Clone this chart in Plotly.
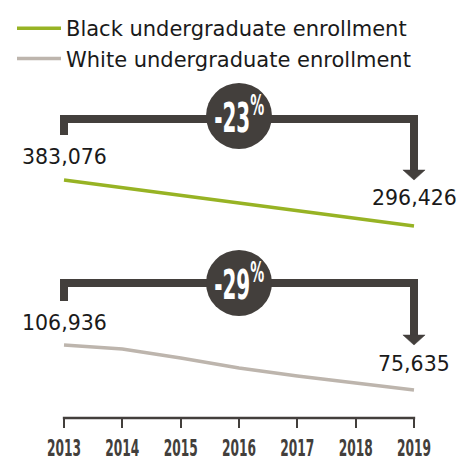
import plotly.graph_objects as go

# Enrollment data
years = [2013, 2014, 2015, 2016, 2017, 2018, 2019]
black_enrollment = [383076, 368900, 354200, 339800, 325100, 310700, 296426]
white_enrollment = [106936, 104150, 97900, 90940, 85370, 80500, 75635]
series_names = ["Black undergraduate enrollment", "White undergraduate enrollment"]

GREEN = "#97b324"
GREY = "#bdb5ad"
DARK = "#433f3c"
W, H = 461, 458
TEXT_FONT = "DejaVu Sans"
COND_FONT = "DejaVu Sans Condensed"


def py(p):
    """pixel row -> paper y"""
    return 1 - p / H


fig = go.Figure()
fig.add_trace(go.Scatter(x=years, y=black_enrollment, mode="lines", name=series_names[0],
                         line=dict(color=GREEN, width=3.5), yaxis="y"))
fig.add_trace(go.Scatter(x=years, y=white_enrollment, mode="lines", name=series_names[1],
                         line=dict(color=GREY, width=3.5), yaxis="y2"))

shapes = []
annotations = []

# axis baseline spanning the year range
shapes.append(dict(type="line", xref="x", yref="y2 domain", x0=years[0] - 0.02, x1=years[-1] + 0.02,
                   y0=0, y1=0, line=dict(color=DARK, width=2.5)))


def bracket(y_bar, y_left, y_arrow, y_circle, pct, values, shifts, yref):
    x0, x1 = years[0], years[-1]
    xm = (x0 + x1) / 2
    shapes.append(dict(type="path", xref="x", yref="paper",
                       path=f"M{x0},{py(y_left)} L{x0},{py(y_bar)} L{x1},{py(y_bar)} L{x1},{py(y_arrow)}",
                       line=dict(color=DARK, width=8)))
    hw = 0.19
    shapes.append(dict(type="path", xref="x", yref="paper",
                       path=f"M{x1 - hw},{py(y_arrow)} L{x1 + hw},{py(y_arrow)} L{x1},{py(y_arrow + 10)} Z",
                       fillcolor=DARK, line=dict(color=DARK, width=0.5)))
    r = 33
    shapes.append(dict(type="circle", xref="x", yref="paper", xsizemode="pixel", ysizemode="pixel",
                       xanchor=xm, yanchor=py(y_circle), x0=-r, x1=r, y0=-r, y1=r,
                       fillcolor=DARK, line=dict(width=0)))
    annotations.append(dict(x=xm, y=py(y_circle), xref="x", yref="paper", showarrow=False,
                            text=f"{pct}<sup>%</sup>", yanchor="middle", xanchor="center", yshift=1,
                            font=dict(family=COND_FONT, size=40, color="white", weight="bold")))
    for xv, v, s in zip([x0, x1], values, shifts):
        annotations.append(dict(x=xv, y=v, xref="x", yref=yref, showarrow=False,
                                text=f"{v:,}", xanchor="center", yanchor="middle", yshift=s,
                                font=dict(family=TEXT_FONT, size=20.5, color="#1a1a1a")))


def pct_change(vals):
    return round((vals[-1] - vals[0]) / vals[0] * 100)


bracket(119, 135, 170, 116, pct_change(black_enrollment),
        [black_enrollment[0], black_enrollment[-1]], [23, 28], "y")
bracket(283, 301, 335, 283, pct_change(white_enrollment),
        [white_enrollment[0], white_enrollment[-1]], [22, 26], "y2")

px_per_year = 350 / 6
xr0 = years[0] - 64 / px_per_year
xr1 = xr0 + W / px_per_year

fig.update_layout(
    width=W, height=H, autosize=False,
    margin=dict(l=0, r=0, t=0, b=0, autoexpand=False),
    paper_bgcolor="white", plot_bgcolor="white",
    showlegend=True,
    legend=dict(x=12 / W, y=py(8), xanchor="left", yanchor="top",
                font=dict(family=TEXT_FONT, size=21, color="#1a1a1a"),
                itemwidth=44, tracegroupgap=0, bgcolor="rgba(0,0,0,0)"),
    xaxis=dict(range=[xr0, xr1], anchor="y2", tickmode="array", tickvals=years,
               ticktext=[str(y) for y in years], ticks="outside", ticklen=9, tickwidth=2,
               tickcolor=DARK, showgrid=False, zeroline=False, showline=False,
               tickangle=0, automargin=False, ticklabeloverflow="allow",
               tickfont=dict(family=COND_FONT, size=23, color=DARK, weight="bold")),
    yaxis=dict(domain=[py(240), py(100)], range=[270054, 533772], visible=False),
    yaxis2=dict(domain=[py(418), py(260)], range=[56157, 166062], visible=False),
    shapes=shapes,
    annotations=annotations,
)

# narrow the condensed display type (year ticks and percent badges)
post = """
var gd = document.getElementById('{plot_id}');
function squeeze(){
  gd.querySelectorAll('g.xtick text').forEach(function(t){
    t.setAttribute('lengthAdjust','spacingAndGlyphs');
    t.setAttribute('textLength', 34);
  });
  gd.querySelectorAll('g.annotation text').forEach(function(t){
    if (t.textContent.indexOf('%') >= 0) {
      t.setAttribute('lengthAdjust','spacingAndGlyphs');
      t.setAttribute('textLength', 50);
    }
  });
}
squeeze();
gd.on('plotly_afterplot', squeeze);
"""
fig.write_html("out.html", post_script=post)
